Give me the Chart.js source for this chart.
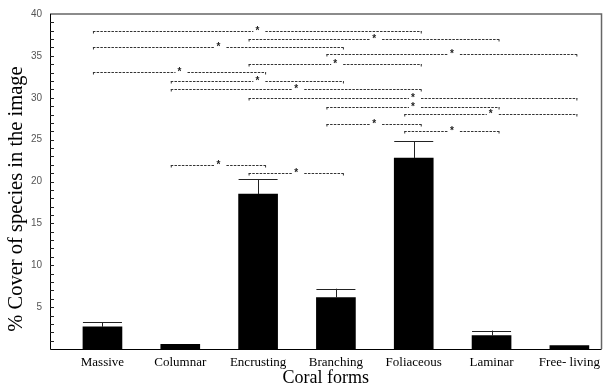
<!DOCTYPE html>
<html>
<head>
<meta charset="utf-8">
<script src="https://cdn.jsdelivr.net/npm/chart.js@4"></script>
<style>
  html, body { margin: 0; padding: 0; background: #fff; }
  #wrap { width: 606px; height: 387px; position: relative; }
</style>
</head>
<body>
<div id="wrap"><canvas id="c" width="606" height="387"></canvas></div>
<script>
// ---- data ----
const categories = ["Massive", "Columnar", "Encrusting", "Branching", "Foliaceous", "Laminar", "Free- living"];
const coverMeans = [2.65, 0.55, 18.5, 6.15, 22.8, 1.6, 0.4];
const coverUpper = [3.2, 0.55, 20.3, 7.2, 24.8, 2.2, 0.4];
const yTickLabels = [5, 10, 15, 20, 25, 30, 35, 40];
const yTitle = "% Cover of species in the image";
const xTitle = "Coral forms";
// significance comparisons (indices into categories) and their heights (% cover)
const bracketFrom  = [0, 2, 0, 3, 2, 0, 1, 1, 2, 3, 4, 3, 4, 1, 2];
const bracketTo    = [4, 5, 3, 6, 4, 2, 3, 4, 6, 5, 6, 4, 5, 2, 3];
const bracketLevel = [38, 37, 36, 35.2, 34, 33.1, 32, 31, 30, 28.9, 28.1, 26.9, 26, 22, 21];
const bracketMark  = "*";

const extrasPlugin = {
  id: 'extras',
  afterDatasetsDraw(chart) {
    const ctx = chart.ctx;
    const xs = chart.scales.x, ys = chart.scales.y;
    const a = chart.chartArea;
    ctx.save();
    // error bars
    const meta = chart.getDatasetMeta(0);
    meta.data.forEach((bar, i) => {
      if (coverUpper[i] <= coverMeans[i]) return;
      const half = bar.width / 2;
      const yTop = ys.getPixelForValue(coverUpper[i]);
      const yBar = ys.getPixelForValue(coverMeans[i]);
      ctx.strokeStyle = '#222';
      ctx.lineWidth = 1;
      ctx.beginPath();
      ctx.moveTo(Math.round(bar.x) + 0.5, yBar);
      ctx.lineTo(Math.round(bar.x) + 0.5, yTop);
      ctx.moveTo(bar.x - half, Math.round(yTop) + 0.5);
      ctx.lineTo(bar.x + half, Math.round(yTop) + 0.5);
      ctx.stroke();
    });
    // significance brackets
    ctx.font = 'bold 10px "Liberation Sans", sans-serif';
    ctx.textAlign = 'center';
    ctx.textBaseline = 'middle';
    for (let k = 0; k < bracketFrom.length; k++) {
      const x1 = xs.getPixelForValue(bracketFrom[k] + 1) - 9.5;
      const x2 = xs.getPixelForValue(bracketTo[k] + 1) + 8;
      const y = Math.round(ys.getPixelForValue(bracketLevel[k])) + 0.5;
      const mid = (x1 + x2) / 2;
      ctx.strokeStyle = '#333';
      ctx.lineWidth = 1;
      ctx.setLineDash([2.5, 1.2]);
      ctx.beginPath();
      ctx.moveTo(x1, y); ctx.lineTo(mid - 4, y);
      ctx.moveTo(mid + 8, y); ctx.lineTo(x2, y);
      ctx.stroke();
      ctx.setLineDash([]);
      ctx.beginPath();
      ctx.moveTo(x1 + 0.5, y); ctx.lineTo(x1 + 0.5, y + 2);
      ctx.moveTo(x2 - 0.5, y); ctx.lineTo(x2 - 0.5, y + 2);
      ctx.stroke();
      ctx.fillStyle = '#222';
      ctx.fillText(bracketMark, mid, y - 0.5);
    }
    // frame
    ctx.strokeStyle = '#666';
    ctx.lineWidth = 1.5;
    ctx.beginPath();
    ctx.moveTo(a.left, a.top); ctx.lineTo(a.right, a.top); ctx.lineTo(a.right, a.bottom);
    ctx.stroke();
    ctx.strokeStyle = '#000';
    ctx.lineWidth = 1;
    ctx.beginPath();
    ctx.moveTo(a.left + 0.5, a.top); ctx.lineTo(a.left + 0.5, a.bottom + 0.5); ctx.lineTo(a.right, a.bottom + 0.5);
    ctx.stroke();
    // inward minor ticks on y axis
    ctx.strokeStyle = '#222';
    ctx.beginPath();
    for (let v = 1; v < ys.max; v++) {
      const py = Math.round(ys.getPixelForValue(v)) + 0.5;
      ctx.moveTo(a.left, py); ctx.lineTo(a.left + 4, py);
    }
    ctx.stroke();
    // y-axis title
    ctx.save();
    ctx.translate(17, 199);
    ctx.rotate(-Math.PI / 2);
    ctx.fillStyle = '#000';
    ctx.font = '20.5px "Liberation Serif", serif';
    ctx.textAlign = 'center';
    ctx.textBaseline = 'middle';
    ctx.fillText(yTitle, 0, 0);
    ctx.restore();
    ctx.restore();
  }
};

new Chart(document.getElementById('c'), {
  type: 'bar',
  data: {
    datasets: [{
      data: categories.map((c, i) => ({ x: i + 1, y: coverMeans[i] })),
      backgroundColor: '#000',
      borderWidth: 0,
      barThickness: 39
    }]
  },
  options: {
    responsive: false,
    animation: false,
    events: [],
    layout: { padding: { top: 13, right: 2, left: 0, bottom: 0 } },
    plugins: { legend: { display: false }, tooltip: { enabled: false } },
    scales: {
      x: {
        type: 'linear',
        offset: false,
        min: 0.326,
        max: 7.413,
        afterBuildTicks: (s) => { s.ticks = categories.map((c, i) => ({ value: i + 1 })); },
        afterFit: (s) => { s.height = 38; },
        grid: { display: false, drawTicks: false },
        border: { display: false },
        ticks: {
          autoSkip: false,
          maxRotation: 0,
          padding: 6,
          color: '#000',
          font: { family: '"Liberation Serif", serif', size: 13 },
          callback: (v) => categories[Math.round(v) - 1] || ''
        },
        title: {
          display: true,
          text: xTitle,
          color: '#000',
          font: { family: '"Liberation Serif", serif', size: 18, lineHeight: 1 },
          padding: { top: 0, bottom: 0 }
        }
      },
      y: {
        min: 0,
        max: 40,
        afterFit: (s) => { s.width = 50; },
        afterBuildTicks: (s) => { s.ticks = yTickLabels.map(v => ({ value: v })); },
        grid: { display: false, drawTicks: false },
        border: { display: false },
        ticks: {
          autoSkip: false,
          padding: 8,
          color: '#555',
          font: { family: '"Liberation Sans", sans-serif', size: 10 },
          callback: (v) => String(v)
        }
      }
    }
  },
  plugins: [extrasPlugin]
});
</script>
</body>
</html>
